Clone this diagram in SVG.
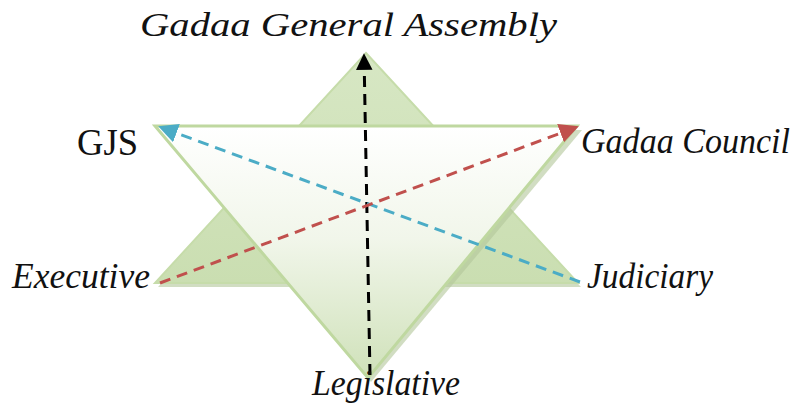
<svg xmlns="http://www.w3.org/2000/svg" width="801" height="406" viewBox="0 0 801 406">
<defs>
<linearGradient id="gDown" x1="0" y1="0" x2="0" y2="1">
<stop offset="0" stop-color="#ffffff"/>
<stop offset="0.45" stop-color="#f1f6ea"/>
<stop offset="1" stop-color="#cfe1b9"/>
</linearGradient>
<linearGradient id="gUp" x1="0" y1="0" x2="0" y2="1">
<stop offset="0" stop-color="#d7e7c4"/>
<stop offset="1" stop-color="#cadeb1"/>
</linearGradient>
<marker id="mBlack" viewBox="0 0 10 10" refX="9" refY="5" markerWidth="5.5" markerHeight="5.5" orient="auto" markerUnits="strokeWidth"><path d="M0,0 L10,5 L0,10 Z" fill="#000"/></marker>
<marker id="mBlue" viewBox="0 0 10 10" refX="9" refY="5" markerWidth="6.5" markerHeight="6.5" orient="auto" markerUnits="strokeWidth"><path d="M0,0 L10,5 L0,10 Z" fill="#4bacc6"/></marker>
<marker id="mRed" viewBox="0 0 10 10" refX="9" refY="5" markerWidth="6.5" markerHeight="6.5" orient="auto" markerUnits="strokeWidth"><path d="M0,0 L10,5 L0,10 Z" fill="#c0504d"/></marker>
</defs>
<style>
text{fill:#111;}
.up{fill:url(#gUp);stroke:#c6dcaa;stroke-width:2;}
.dn{fill:url(#gDown);stroke:#bfd8a0;stroke-width:3;}
.sh{fill:#b3c79a;opacity:0.6;}
.con{fill:none;stroke-width:3;stroke-dasharray:11 7;}
</style>
<rect width="801" height="406" fill="#fff"/>
<g id="star">
<polygon class="sh" points="368,56 581,287 158,287"/>
<polygon class="up" points="366,53 578,283 155,283"/>
<polygon class="sh" points="158,130 582,130 371,382"/>
<polygon class="dn" points="155,126 577,126 368,378"/>
</g>
<g id="connectors">
<line class="con" x1="370" y1="375" x2="364" y2="55" stroke="#000" stroke-dasharray="13 8" marker-end="url(#mBlack)"/>
<line class="con" x1="580" y1="282" x2="160" y2="127" stroke="#4bacc6" marker-end="url(#mBlue)"/>
<line class="con" x1="160" y1="283" x2="577" y2="127" stroke="#c0504d" marker-end="url(#mRed)"/>
</g>
<g id="n-assembly"><text x="140" y="36" font-family="Liberation Serif, serif" font-style="italic" font-size="34" textLength="417" lengthAdjust="spacingAndGlyphs">Gadaa General Assembly</text></g>
<g id="n-gjs"><text x="77" y="155" font-family="Liberation Serif, serif" font-size="37" textLength="61" lengthAdjust="spacingAndGlyphs">GJS</text></g>
<g id="n-council"><text x="581" y="153" font-family="Liberation Serif, serif" font-style="italic" font-size="35" textLength="209" lengthAdjust="spacingAndGlyphs">Gadaa Council</text></g>
<g id="n-executive"><text x="12" y="288" font-family="Liberation Serif, serif" font-style="italic" font-size="35" textLength="138" lengthAdjust="spacingAndGlyphs">Executive</text></g>
<g id="n-judiciary"><text x="587" y="288" font-family="Liberation Serif, serif" font-style="italic" font-size="35" textLength="126" lengthAdjust="spacingAndGlyphs">Judiciary</text></g>
<g id="n-legislative"><text x="312" y="395" font-family="Liberation Serif, serif" font-style="italic" font-size="35" textLength="148" lengthAdjust="spacingAndGlyphs">Legislative</text></g>
</svg>
